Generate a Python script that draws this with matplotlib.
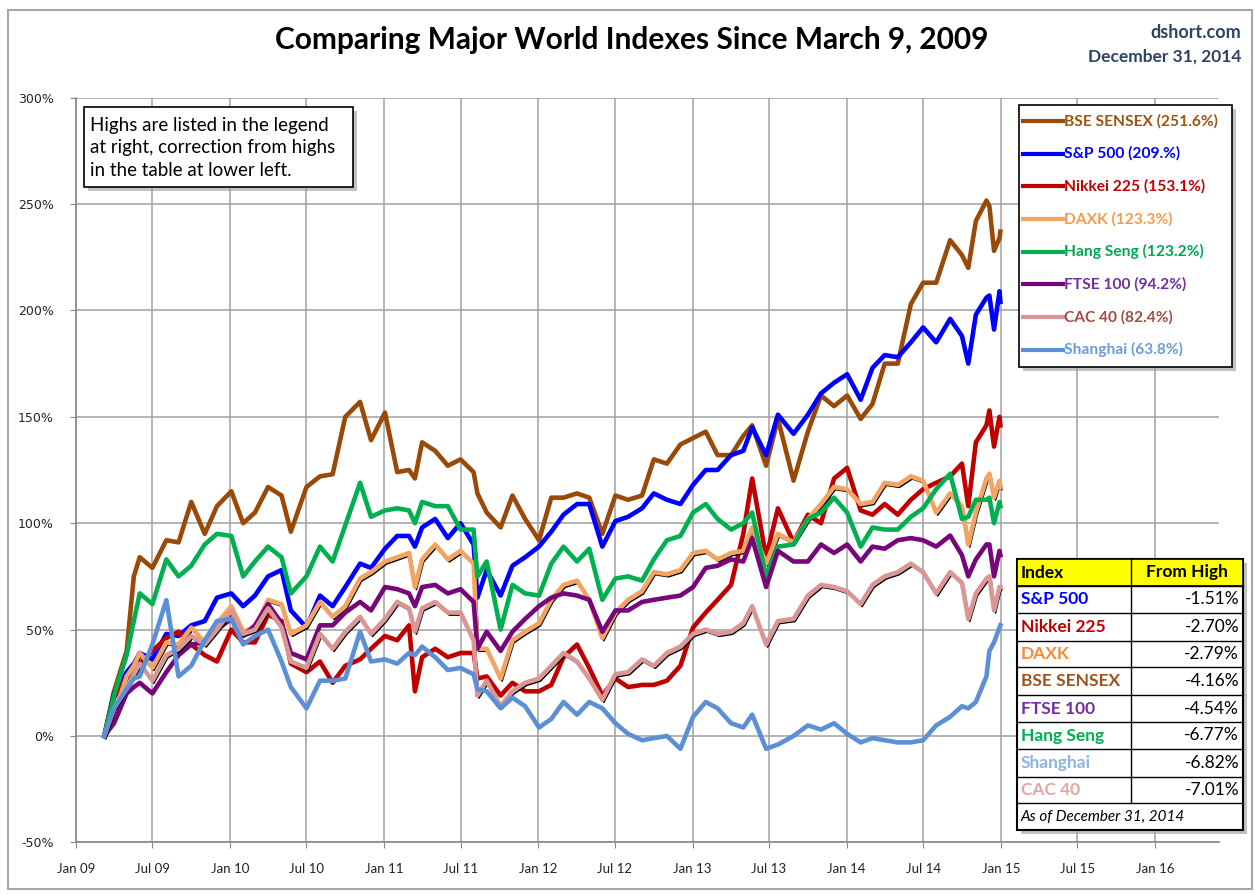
import pandas as pd
import matplotlib
matplotlib.use('Agg')
import matplotlib.pyplot as plt
import matplotlib.dates as mdates
import matplotlib.transforms as mtransforms
from matplotlib.patches import Rectangle
from matplotlib.lines import Line2D
from matplotlib.ticker import FuncFormatter

# sample dates (monthly plus a few turning points)
dates = pd.to_datetime([
    '2009-03-09', '2009-04-01', '2009-05-01', '2009-05-18', '2009-06-01', '2009-07-01',
    '2009-08-03', '2009-09-01', '2009-10-01', '2009-11-02', '2009-12-01',
    '2010-01-04', '2010-02-01', '2010-03-01', '2010-04-01', '2010-05-03', '2010-05-25',
    '2010-07-01', '2010-08-02', '2010-09-01', '2010-10-01', '2010-11-05', '2010-12-01',
    '2011-01-03', '2011-02-01', '2011-03-01', '2011-03-15', '2011-04-01', '2011-05-02',
    '2011-06-01', '2011-07-01', '2011-08-01', '2011-08-10', '2011-09-01', '2011-10-04',
    '2011-11-01', '2011-12-01',
    '2012-01-03', '2012-02-01', '2012-03-01', '2012-04-02', '2012-05-01', '2012-06-01',
    '2012-07-02', '2012-08-01', '2012-09-03', '2012-10-01', '2012-11-01', '2012-12-03',
    '2013-01-02', '2013-02-01', '2013-03-01', '2013-04-02', '2013-05-01', '2013-05-22',
    '2013-06-24', '2013-07-22', '2013-08-28', '2013-10-01', '2013-11-01', '2013-12-02',
    '2014-01-02', '2014-02-03', '2014-03-03', '2014-04-01', '2014-05-02', '2014-06-02',
    '2014-07-01', '2014-08-01', '2014-09-03', '2014-10-01', '2014-10-16', '2014-11-03',
    '2014-11-28', '2014-12-05', '2014-12-16', '2014-12-29', '2014-12-31'])

# % gain since March 9, 2009
bse = [0, 21, 40, 75, 84, 79, 92, 91, 110, 95, 108,
       115, 100, 105, 117, 113, 96, 117, 122, 123, 150, 157, 139,
       152, 124, 125, 121, 138, 134, 127, 130, 124, 114, 105, 98, 113, 102,
       92, 112, 112, 114, 112, 95, 113, 111, 113, 130, 128, 137,
       140, 143, 132, 132, 141, 146, 127, 149, 120, 143, 160, 155,
       160, 149, 156, 175, 175, 203, 213, 213, 233, 226, 220, 242, 251.6, 249, 228, 234, 237]
spx = [0, 20, 30, 34, 39, 36, 48, 47, 52, 54, 65,
       67, 61, 66, 75, 78, 59, 51, 66, 61, 70, 81, 79,
       88, 94, 94, 89, 98, 102, 93, 100, 90, 65, 78, 66, 80, 84,
       89, 96, 104, 109, 109, 89, 101, 103, 107, 114, 111, 109,
       118, 125, 125, 132, 134, 145, 132, 151, 142, 151, 161, 166,
       170, 158, 173, 179, 178, 185, 192, 185, 196, 188, 175, 198, 206, 207, 191, 209, 204]
nikkei = [0, 18, 27, 28, 34, 40, 46, 49, 43, 38, 35,
          50, 44, 44, 57, 54, 34, 30, 35, 25, 33, 36, 41,
          47, 45, 52, 21, 37, 41, 37, 39, 39, 27, 28, 19, 25, 21,
          21, 24, 37, 43, 32, 19, 27, 23, 24, 24, 26, 33,
          51, 58, 64, 71, 95, 121, 84, 107, 91, 104, 100, 121,
          126, 106, 104, 109, 104, 111, 116, 119, 122, 128, 108, 138, 146, 153, 136, 150, 146]
daxk = [0, 10, 28, 33, 39, 32, 44, 43, 51, 44, 53,
        61, 49, 51, 64, 62, 48, 52, 63, 56, 61, 74, 77,
        82, 84, 86, 70, 83, 90, 83, 87, 81, 41, 41, 27, 45, 49,
        53, 64, 71, 73, 64, 46, 58, 64, 68, 77, 76, 78,
        86, 87, 83, 86, 87, 98, 81, 95, 91, 102, 109, 117,
        116, 109, 110, 119, 118, 122, 120, 105, 114, 108, 90, 105, 121, 123.3, 112, 120, 117]
hangseng = [0, 19, 38, 54, 67, 62, 83, 75, 80, 90, 95,
            94, 75, 82, 89, 84, 67, 75, 89, 82, 99, 119, 103,
            106, 107, 106, 100, 110, 108, 108, 97, 97, 75, 82, 50, 71, 67,
            66, 81, 89, 82, 88, 64, 74, 75, 73, 83, 92, 94,
            105, 109, 102, 97, 100, 105, 75, 89, 90, 102, 105, 112,
            105, 89, 98, 97, 97, 103, 107, 116, 123.2, 102, 103, 111, 111, 112, 100, 110, 108]
ftse = [0, 6, 20, 23, 25, 20, 30, 38, 43, 44, 50,
        55, 47, 52, 62, 53, 39, 36, 52, 52, 58, 63, 59,
        70, 69, 67, 61, 70, 71, 67, 69, 63, 41, 49, 40, 49, 55,
        61, 65, 67, 66, 64, 49, 59, 59, 63, 64, 65, 66,
        70, 79, 80, 83, 82, 93, 70, 87, 82, 82, 90, 86,
        90, 82, 89, 88, 92, 93, 92, 89, 94.2, 85, 75, 83, 90, 90, 75, 87, 85]
cac = [0, 13, 23, 29, 34, 26, 38, 41, 47, 43, 50,
       59, 48, 50, 60, 51, 35, 32, 48, 41, 49, 56, 48,
       55, 63, 60, 49, 60, 63, 58, 58, 45, 19, 26, 14, 21, 25,
       27, 33, 39, 35, 27, 17, 29, 30, 36, 33, 39, 42,
       48, 50, 48, 49, 53, 61, 43, 54, 55, 66, 71, 70,
       68, 62, 71, 75, 77, 81, 77, 67, 77, 72, 55, 67, 74, 75, 59, 70, 70]
shanghai = [0, 13, 22, 27, 28, 43, 63.8, 28, 33, 45, 54,
            55, 43, 47, 50, 35, 23, 13, 26, 26, 27, 49, 35,
            36, 34, 39, 38, 42, 37, 31, 32, 29, 22, 21, 13, 18, 14,
            4, 8, 16, 10, 16, 13, 6, 1, -2, -1, 0, -6,
            9, 16, 13, 6, 4, 10, -6, -4, 0, 5, 3, 6,
            1, -3, -1, -2, -3, -3, -2, 5, 9, 14, 13, 16, 28, 40, 44, 51, 52]

names = ['BSE SENSEX', 'S&P 500', 'Nikkei 225', 'DAXK', 'Hang Seng', 'FTSE 100', 'CAC 40', 'Shanghai']
highs = ['251.6%', '209.%', '153.1%', '123.3%', '123.2%', '94.2%', '82.4%', '63.8%']
series = [bse, spx, nikkei, daxk, hangseng, ftse, cac, shanghai]
line_colors = ['#9A4A08', '#0000FF', '#C00000', '#F2A462', '#00B050', '#76067A', '#D99694', '#5B8FD6']
legend_text_colors = ['#A0520F', '#0000FF', '#C00000', '#F59A4E', '#00A850', '#7030A0', '#9C4F40', '#6C9BD5']
shadowed = ['DAXK', 'CAC 40']

table_names = ['S&P 500', 'Nikkei 225', 'DAXK', 'BSE SENSEX', 'FTSE 100', 'Hang Seng', 'Shanghai', 'CAC 40']
table_colors = ['#0000FF', '#C00000', '#F58A3A', '#A0521E', '#7030A0', '#00B050', '#8DB4E2', '#E6A4A0']
from_high = ['-1.51%', '-2.70%', '-2.79%', '-4.16%', '-4.54%', '-6.77%', '-6.82%', '-7.01%']

W, H = 1255, 894


def fx(x):
    return x / W


def fy(y):
    return 1 - y / H


fig = plt.figure(figsize=(12.55, 8.94), dpi=100)
fig.patches.append(Rectangle((fx(8), fy(889)), fx(1252) - fx(8), fy(10) - fy(889),
                             transform=fig.transFigure, fill=False, edgecolor='#A6A6A6', lw=1.5))

ax = fig.add_axes([fx(76), fy(842.4), fx(1219) - fx(76), fy(97.6) - fy(842.4)])

shadow_off = mtransforms.ScaledTranslation(1.5 / 100, -2.5 / 100, fig.dpi_scale_trans)
for name, vals, col in zip(names, series, line_colors):
    if name in shadowed:
        ax.plot(dates, vals, color='black', lw=1.2, transform=ax.transData + shadow_off,
                solid_joinstyle='round')
    ax.plot(dates, vals, color=col, lw=3.3, solid_joinstyle='round')

ax.set_ylim(-50, 300)
ax.set_yticks(range(-50, 301, 50))
ax.yaxis.set_major_formatter(FuncFormatter(lambda v, p: f'{int(v)}%'))
ax.set_xlim(pd.Timestamp('2009-01-01'), pd.Timestamp('2016-06-01'))
ax.xaxis.set_major_locator(mdates.MonthLocator(bymonth=[1, 7]))
ax.xaxis.set_major_formatter(mdates.DateFormatter('%b %y'))

ax.grid(True, color='#A0A0A0', lw=1.1)
ax.set_axisbelow(True)
for s in ['top', 'right']:
    ax.spines[s].set_visible(False)
for s in ['left', 'bottom']:
    ax.spines[s].set_color('#888888')
    ax.spines[s].set_linewidth(1.2)
ax.tick_params(axis='y', length=4, color='#888888', pad=12, labelsize=9, labelcolor='#222222')
ax.tick_params(axis='x', length=4, color='#888888', pad=11, labelsize=9.5, labelcolor='#222222')
for lab in ax.get_xticklabels():
    lab.set_family('Lato')

# title and source
fig.text(fx(632), fy(40), 'Comparing Major World Indexes Since March 9, 2009', ha='center', va='center',
         fontsize=21.5, fontweight='bold', family='Lato', color='black')
fig.text(fx(1241), fy(33), 'dshort.com', ha='right', va='center', fontsize=13, fontweight='bold',
         family='Lato', color='#2E4461')
fig.text(fx(1241), fy(57), 'December 31, 2014', ha='right', va='center', fontsize=12.5, fontweight='bold',
         family='Lato', color='#2E4461')


def boxed(x0, y0, x1, y1, lw=1.2, face='white'):
    fig.patches.append(Rectangle((fx(x0 + 4), fy(y1 + 4)), fx(x1) - fx(x0), fy(y0) - fy(y1),
                                 transform=fig.transFigure, facecolor='#9A9A9A', edgecolor='none',
                                 alpha=0.6, zorder=5))
    fig.patches.append(Rectangle((fx(x0), fy(y1)), fx(x1) - fx(x0), fy(y0) - fy(y1),
                                 transform=fig.transFigure, facecolor=face, edgecolor='black',
                                 lw=lw, zorder=6))


# note box
boxed(84, 107, 353, 187)
note = ['Highs are listed in the legend', 'at right, correction from highs', 'in the table at lower left.']
for i, t in enumerate(note):
    fig.text(fx(90), fy(125 + i * 22.5), t, ha='left', va='center', fontsize=13.5, family='Lato',
             color='black', zorder=7)

# legend
boxed(1019, 105, 1232, 367)
for i, (name, hi, lc, tc) in enumerate(zip(names, highs, line_colors, legend_text_colors)):
    yy = 121 + i * 32.7
    fig.lines.append(Line2D([fx(1023), fx(1063)], [fy(yy), fy(yy)], transform=fig.transFigure,
                            color=lc, lw=3, zorder=7))
    fig.text(fx(1064), fy(yy), f'{name} ({hi})', ha='left', va='center', fontsize=11.2,
             fontweight='bold', family='Lato', color=tc, zorder=7)

# table of corrections from highs
rows_y = [559, 586, 613, 641, 667, 695, 722, 749, 777, 803, 830]
tx0, tx1, tx2 = 1017, 1131, 1243
boxed(tx0, rows_y[0], tx2, rows_y[-1], lw=1.5)
fig.patches.append(Rectangle((fx(tx0), fy(rows_y[1])), fx(tx2) - fx(tx0), fy(rows_y[0]) - fy(rows_y[1]),
                             transform=fig.transFigure, facecolor='#FFFF00', edgecolor='black',
                             lw=1.2, zorder=6))
for yy in rows_y[1:-1]:
    fig.lines.append(Line2D([fx(tx0), fx(tx2)], [fy(yy), fy(yy)], transform=fig.transFigure,
                            color='black', lw=1, zorder=7))
fig.lines.append(Line2D([fx(tx1), fx(tx1)], [fy(rows_y[0]), fy(rows_y[-2])], transform=fig.transFigure,
                        color='black', lw=1, zorder=7))


def cell_y(i):
    return fy((rows_y[i] + rows_y[i + 1]) / 2)


fig.text(fx(1021), cell_y(0), 'Index', ha='left', va='center', fontsize=12.5, fontweight='bold',
         family='Lato', color='black', zorder=8)
fig.text(fx(1187), cell_y(0), 'From High', ha='center', va='center', fontsize=12.5, fontweight='bold',
         family='Lato', color='black', zorder=8)
for i, (nm, c, v) in enumerate(zip(table_names, table_colors, from_high)):
    fig.text(fx(1021), cell_y(i + 1), nm, ha='left', va='center', fontsize=12.5, fontweight='bold',
             family='Lato', color=c, zorder=8)
    fig.text(fx(1239), cell_y(i + 1), v, ha='right', va='center', fontsize=12.5,
             family='Lato', color='black', zorder=8)
fig.text(fx(1021), cell_y(9), 'As of December 31, 2014', ha='left', va='center', fontsize=11,
         style='italic', family='Lato', color='black', zorder=8)

fig.savefig('out.png', dpi=100)
